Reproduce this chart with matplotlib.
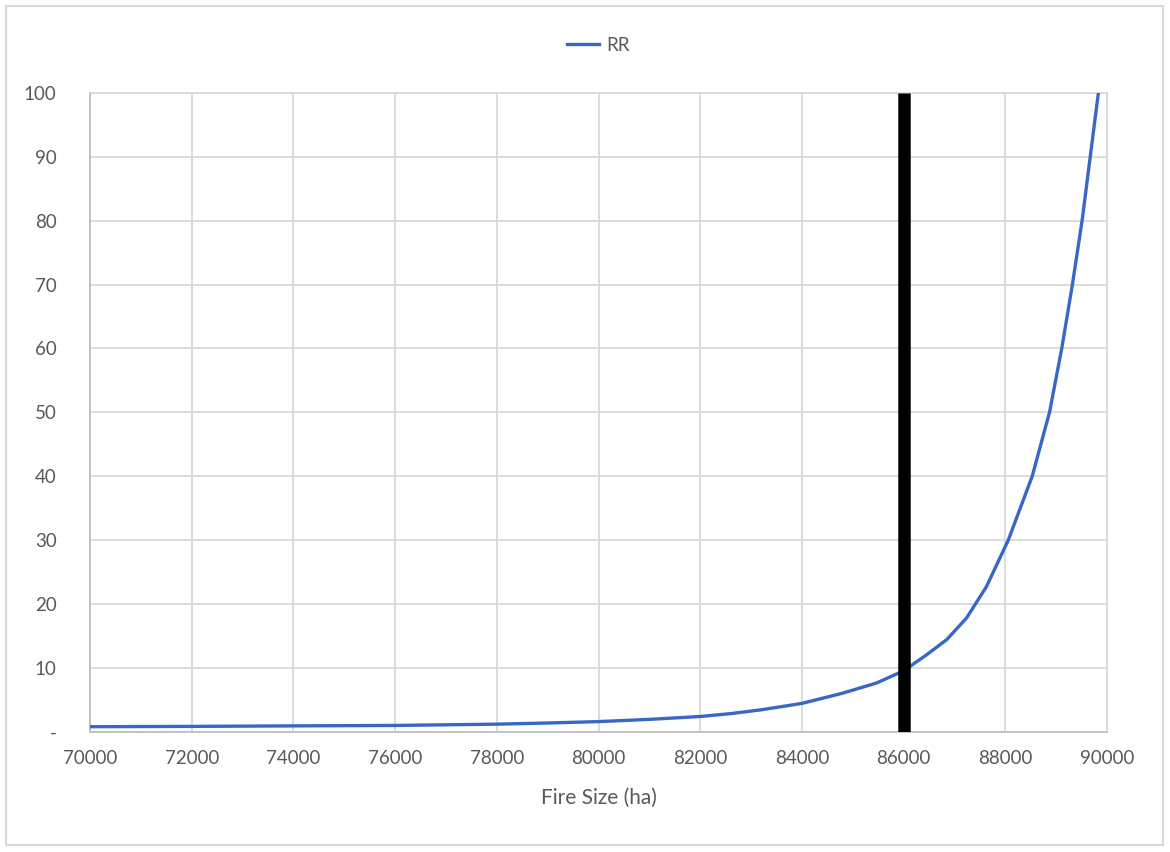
import matplotlib
matplotlib.use("Agg")
import matplotlib.pyplot as plt
from matplotlib.patches import Rectangle

# fire size (ha) and relative risk
fire_size = [70000, 72000, 74000, 76000, 78000, 79000, 80000, 81000, 82000,
             82600, 83200, 84000, 84800, 85470, 86000, 86450, 86850, 87240,
             87630, 88060, 88530, 88870, 89110, 89320, 89510, 89670, 89830]
rr = [0.75, 0.8, 0.88, 0.95, 1.15, 1.33, 1.55, 1.9, 2.35,
      2.8, 3.4, 4.4, 6.0, 7.6, 9.5, 12.0, 14.4, 17.8,
      22.7, 30.0, 40.0, 50.0, 60.0, 70.0, 80.0, 90.0, 100.0]

threshold_x = [86000]

x_ticks = list(range(70000, 90001, 2000))
y_ticks = list(range(0, 101, 10))
y_tick_labels = ["-"] + [str(v) for v in y_ticks[1:]]

plt.rcParams["font.family"] = ["Lato", "DejaVu Sans"]

grid_col = "#d9d9d9"
text_col = "#595959"

fig = plt.figure(figsize=(11.7, 8.52), dpi=100)
ax = fig.add_axes([90 / 1170, 1 - 731.5 / 852, (1107 - 90) / 1170, (731.5 - 93) / 852])

ax.plot(fire_size, rr, color="#3867c6", lw=2.4, label="RR", zorder=3)
for xv in threshold_x:
    ax.axvline(xv, color="black", lw=9, zorder=4, solid_capstyle="butt")

ax.set_xlim(70000, 90000)
ax.set_ylim(0, 100)
ax.set_xticks(x_ticks)
ax.set_xticklabels([str(v) for v in x_ticks])
ax.set_yticks(y_ticks)
ax.set_yticklabels(y_tick_labels)

ax.grid(True, color=grid_col, lw=1.3)
ax.set_axisbelow(True)
for side in ["top", "right"]:
    ax.spines[side].set_color(grid_col)
    ax.spines[side].set_linewidth(1.3)
for side in ["left", "bottom"]:
    ax.spines[side].set_color("#bfbfbf")
    ax.spines[side].set_linewidth(1.3)

ax.tick_params(axis="both", length=0, labelsize=13.5, colors=text_col)
ax.tick_params(axis="x", pad=13)
ax.tick_params(axis="y", pad=24)

ax.set_xlabel("Fire Size (ha)", fontsize=15, color=text_col, labelpad=15)

ax.legend(loc="lower center", bbox_to_anchor=(0.5, 1.035), frameon=False,
          fontsize=13.5, labelcolor=text_col, handlelength=1.7, handletextpad=0.4)

# outer chart border
fig.patches.append(Rectangle((6 / 1170, 1 - 845 / 852), 1157 / 1170, 839 / 852,
                             transform=fig.transFigure, fill=False,
                             edgecolor=grid_col, lw=1.5))

fig.savefig("out.png", dpi=100, facecolor="white")
